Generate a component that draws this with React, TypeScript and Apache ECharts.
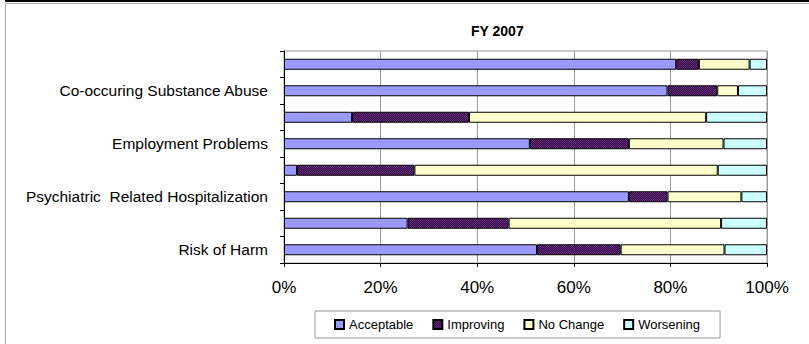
import React, { useEffect, useRef } from "react";
import * as echarts from "echarts";

const categories = [
  "Risk of Harm",
  "",
  "Psychiatric  Related Hospitalization",
  "",
  "Employment Problems",
  "",
  "Co-occuring Substance Abuse",
  "",
];
const seriesNames = ["Acceptable", "Improving", "No Change", "Worsening"];
const acceptable = [52.4, 25.6, 71.4, 2.7, 50.9, 14.1, 79.4, 81.2];
const improving = [17.3, 20.9, 8.0, 24.3, 20.5, 24.2, 10.3, 4.7];
const noChange = [21.5, 44.0, 15.3, 62.8, 19.6, 49.1, 4.3, 10.5];
const worsening = [8.8, 9.5, 5.3, 10.2, 9.0, 12.6, 6.0, 3.6];
const xTicks = [0, 20, 40, 60, 80, 100];

const FONT = "Arial, 'Liberation Sans', sans-serif";

function makePattern() {
  const c = document.createElement("canvas");
  c.width = 2;
  c.height = 2;
  const ctx = c.getContext("2d");
  if (ctx) {
    ctx.fillStyle = "#10106e";
    ctx.fillRect(0, 0, 2, 2);
    ctx.fillStyle = "#8c2458";
    ctx.fillRect(0, 0, 1, 1);
    ctx.fillRect(1, 1, 1, 1);
  }
  return { image: c, repeat: "repeat" } as any;
}

export default function App() {
  const ref = useRef<HTMLDivElement>(null);
  useEffect(() => {
    if (!ref.current) return;
    const chart = echarts.init(ref.current, undefined, { renderer: "svg" });
    const pattern = makePattern();
    const colors = ["#9999FF", pattern, "#FFFFCC", "#CCFFFF"];
    const values = [acceptable, improving, noChange, worsening];
    chart.setOption({
      animation: false,
      backgroundColor: "#ffffff",
      title: {
        text: "FY 2007",
        left: 466,
        top: 19,
        textStyle: { fontFamily: FONT, fontSize: 14, fontWeight: "bold", color: "#000" },
      },
      grid: {
        left: 284,
        right: 42,
        top: 51,
        height: 212,
        show: true,
        borderColor: "#999",
        borderWidth: 1,
        containLabel: false,
      },
      legend: {
        data: seriesNames,
        left: 315,
        top: 311,
        orient: "horizontal",
        itemWidth: 9,
        itemHeight: 9,
        itemGap: 19,
        padding: [7, 20, 7, 19],
        borderColor: "#999",
        borderWidth: 1,
        icon: "rect",
        textStyle: { fontFamily: FONT, fontSize: 13, color: "#000" },
      },
      xAxis: {
        type: "value",
        min: xTicks[0],
        max: xTicks[xTicks.length - 1],
        interval: 20,
        axisLine: { show: true, lineStyle: { color: "#000", width: 1 } },
        axisTick: { show: true, length: 4, lineStyle: { color: "#000" } },
        splitLine: { show: true, lineStyle: { color: "#999", width: 1 } },
        axisLabel: {
          formatter: "{value}%",
          fontFamily: FONT,
          fontSize: 17,
          color: "#000",
          margin: 16,
        },
      },
      yAxis: {
        type: "category",
        data: categories,
        axisLine: { show: true, lineStyle: { color: "#000", width: 1 } },
        axisTick: { show: true, length: 4, interval: 0, lineStyle: { color: "#000" } },
        axisLabel: {
          interval: 1,
          fontFamily: FONT,
          fontSize: 15.5,
          color: "#000",
          margin: 16,
        },
      },
      series: seriesNames.map((name, i) => ({
        name,
        type: "bar",
        stack: "total",
        barWidth: 11,
        data: values[i],
        itemStyle: { color: colors[i], borderColor: "#000", borderWidth: 1 },
        emphasis: { disabled: true },
      })),
      graphic: [
        { type: "line", shape: { x1: 5, y1: 1, x2: 809, y2: 1 }, style: { stroke: "#000", lineWidth: 2 } },
        { type: "line", shape: { x1: 5, y1: 3.5, x2: 809, y2: 3.5 }, style: { stroke: "#aaa", lineWidth: 1 } },
        { type: "line", shape: { x1: 5.5, y1: 3, x2: 5.5, y2: 344 }, style: { stroke: "#aaa", lineWidth: 1 } },
      ],
    });
    return () => chart.dispose();
  }, []);
  return (
    <div
      ref={ref}
      style={{ position: "fixed", left: 0, top: 0, width: 809, height: 344 }}
    />
  );
}
